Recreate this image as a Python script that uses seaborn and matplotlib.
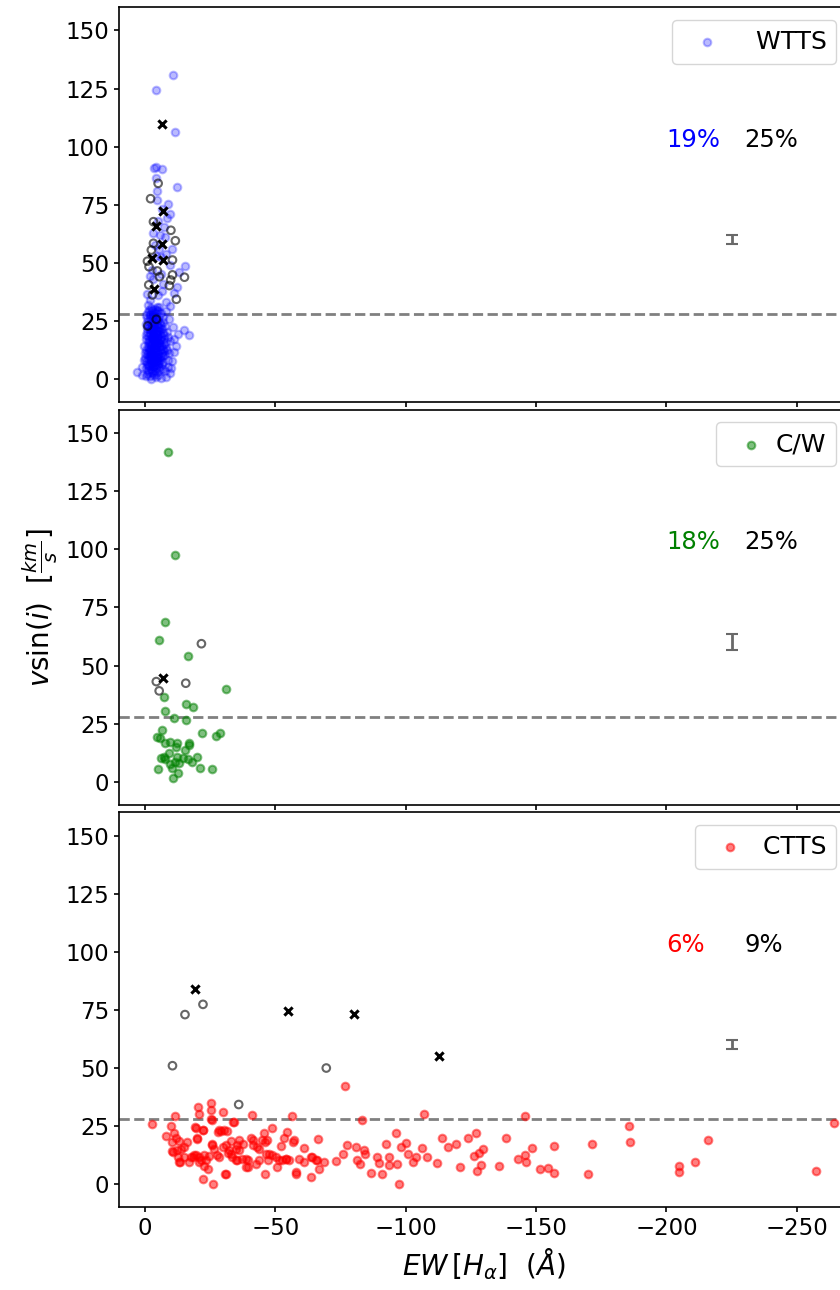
import numpy as np
import pandas as pd
import seaborn as sns
import matplotlib.pyplot as plt

# EW[Halpha] (x) vs vsin(i) (y)
wtts_pts = [
    (-1.5, 29.5), (-3.0, 28.8), (-4.6, 29.9), (-6.0, 28.4), (-8.2, 29.2), (-2.2, 30.6), (-5.3, 31.0),
    (-0.8, 26.2), (-2.5, 25.7), (-3.9, 26.8), (-5.1, 25.3), (-6.7, 26.5), (-9.1, 25.9), (-1.9, 27.4), (-4.4, 24.8),
    (-1.2, 23.1), (-2.8, 22.6), (-3.5, 23.8), (-4.9, 22.2), (-6.2, 23.4), (-7.6, 22.9), (-10.8, 22.5), (-0.3, 23.6), (-5.7, 21.9),
    (-0.6, 20.3), (-1.8, 19.6), (-3.1, 20.8), (-4.2, 19.2), (-5.5, 20.5), (-6.9, 19.8), (-8.3, 20.1), (-12.5, 19.4),
    (-14.9, 21.0), (-16.8, 19.1), (-2.4, 21.4), (-7.4, 18.9),
    (-0.2, 17.2), (-1.4, 16.6), (-2.7, 17.5), (-3.8, 16.1), (-4.7, 17.8), (-6.0, 16.9), (-7.3, 17.3), (-9.6, 16.4),
    (-11.2, 17.0), (-1.0, 15.9), (-5.2, 15.6), (-8.8, 18.2),
    (0.4, 14.1), (-1.1, 13.6), (-2.2, 14.5), (-3.3, 13.2), (-4.5, 14.8), (-5.7, 13.9), (-6.6, 14.3), (-8.0, 13.5),
    (-11.8, 14.0), (-1.6, 12.9), (-3.9, 12.6), (-7.1, 15.2),
    (0.2, 11.0), (-0.9, 10.6), (-2.0, 11.4), (-3.0, 10.2), (-4.1, 11.7), (-5.0, 10.8), (-6.3, 11.2), (-7.7, 10.4),
    (-9.2, 11.1), (-11.0, 11.8), (-1.5, 9.9), (-4.6, 9.6), (-8.5, 12.3),
    (0.6, 8.1), (-0.5, 7.6), (-1.7, 8.5), (-2.6, 7.2), (-3.6, 8.8), (-4.8, 7.9), (-5.9, 8.3), (-7.0, 7.5),
    (-8.9, 8.0), (-10.3, 7.7), (-2.1, 6.8), (-6.4, 6.5),
    (1.2, 5.0), (-0.2, 4.6), (-1.3, 5.4), (-2.4, 4.2), (-3.4, 5.7), (-4.3, 4.8), (-5.4, 5.2), (-6.8, 4.4),
    (-8.6, 5.3), (-9.9, 4.9), (-3.9, 3.6), (-7.5, 3.3),
    (3.0, 3.1), (1.1, 1.7), (-0.7, 2.2), (-1.9, 1.2), (-2.9, 2.5), (-4.0, 0.8), (-5.1, 1.9), (-6.2, 0.4),
    (-8.0, 1.0), (-9.5, 2.6), (-2.3, 0.2),
    (-1.8, 27.8), (-2.9, 28.1), (-3.6, 24.5), (-4.4, 25.8), (-5.2, 27.1), (-2.5, 21.8), (-3.3, 22.1), (-4.1, 21.0),
    (-1.2, 18.4), (-2.0, 18.9), (-3.0, 18.1), (-3.8, 17.6), (-4.8, 18.6), (-5.6, 19.3), (-2.7, 15.2), (-3.5, 15.8),
    (-4.3, 16.3), (-1.7, 12.2), (-2.4, 12.8), (-3.2, 12.5), (-4.0, 13.4), (-5.0, 12.0), (-6.1, 12.7), (-2.1, 9.3),
    (-3.1, 9.8), (-4.2, 9.1), (-1.4, 6.2), (-2.6, 6.6), (-3.7, 6.1), (-4.6, 7.0),
    (-2.2, 24.0), (-3.4, 24.8), (-4.5, 23.2), (-1.9, 20.9), (-3.0, 21.6), (-4.0, 20.0), (-5.1, 21.2), (-2.6, 17.9),
    (-3.6, 18.7), (-4.7, 16.8), (-6.0, 18.0), (-1.6, 14.9), (-2.8, 15.4), (-3.9, 14.2), (-5.3, 15.9), (-2.3, 10.9),
    (-3.3, 11.6), (-4.4, 10.1), (-5.8, 9.4), (-1.0, 3.8),
    (-0.4, 27.6), (-1.3, 25.0), (-2.0, 26.4), (-3.2, 27.2), (-4.1, 28.3), (-5.6, 24.1), (-6.4, 21.4), (-0.9, 21.9),
    (-1.6, 22.4), (-2.9, 19.9), (-4.5, 20.6), (-5.9, 17.4), (-0.5, 18.8), (-1.9, 16.0), (-3.1, 16.7), (-4.2, 15.0),
    (-5.4, 14.4), (-6.8, 12.9), (-0.3, 12.4), (-1.3, 11.7), (-2.6, 10.5), (-3.6, 10.9), (-4.9, 9.2), (-6.0, 10.0),
    (-0.1, 9.2), (-1.2, 8.8), (-2.3, 8.0), (-3.3, 7.5), (-4.1, 7.7), (-5.3, 6.8), (-0.8, 6.3), (-1.8, 5.6),
    (-2.9, 5.1), (-4.8, 5.9), (-5.9, 3.9), (-0.3, 1.4), (-1.4, 3.2), (-2.7, 3.5), (-3.5, 1.6), (-4.6, 2.9),
    (-1.1, 28.9), (-2.6, 29.6), (-3.7, 30.3), (-5.0, 29.4), (-6.9, 24.4), (-7.9, 16.1), (-7.3, 12.1), (-6.9, 9.7),
    (-3.5, 90.7), (-4.1, 91.1), (-6.4, 90.3), (-4.1, 86.4), (-12.4, 82.6), (-4.6, 80.9), (-4.7, 77.0), (-8.9, 75.2),
    (-9.5, 71.0), (-8.3, 69.2), (-6.5, 73.0), (-5.0, 68.0), (-3.0, 63.0), (-7.8, 61.0), (-5.5, 56.0), (-8.0, 54.0),
    (-4.0, 53.0), (-9.6, 49.0), (-15.2, 48.8), (-13.0, 46.2), (-6.0, 45.0), (-3.2, 43.0), (-7.0, 41.0), (-12.4, 39.7),
    (-11.0, 37.0), (-5.0, 36.0), (-2.0, 34.0), (-8.0, 33.0), (-9.5, 31.5), (-1.0, 32.0), (-4.5, 31.0), (-6.6, 38.0),
    (-0.6, 36.5), (-10.5, 56.0), (-4.0, 124.5), (-10.6, 131.0), (-11.4, 106.5), (-2.8, 47.0), (-5.8, 62.0),
    (-7.2, 65.5), (-3.8, 57.5), (-6.2, 52.5), (-1.8, 44.5),
]
wtts_open = [
    (-5.0, 84.2), (-2.1, 77.6), (-3.2, 67.7), (-9.9, 64.0), (-11.6, 59.5), (-3.2, 58.4), (-2.4, 55.5),
    (-0.9, 50.7), (-10.5, 51.2), (-1.5, 48.3), (-4.7, 46.5), (-10.5, 44.8), (-9.8, 42.6), (-9.3, 40.2),
    (-15.1, 43.8), (-1.4, 40.5), (-2.8, 36.2), (-12.0, 34.3), (-4.3, 25.7), (-1.0, 22.8), (-5.5, 44.0),
]
wtts_cross = [(-6.3, 109.6), (-7.0, 72.2), (-4.2, 65.8), (-6.3, 58.0), (-2.8, 52.1), (-6.9, 51.0), (-3.5, 38.8)]

cw_pts = [
    (-8.9, 142.1), (-11.5, 97.4), (-7.5, 68.7), (-5.2, 61.2), (-16.6, 54.2), (-31.2, 40.1), (-7.3, 36.4),
    (-15.6, 33.5), (-18.5, 32.0), (-7.5, 30.5), (-11.1, 27.5), (-15.6, 26.6), (-6.6, 22.3), (-22.0, 21.1),
    (-4.7, 19.4), (-5.6, 18.7), (-27.1, 19.7), (-28.6, 20.8), (-7.7, 16.5), (-9.5, 17.2), (-12.4, 16.8),
    (-16.9, 16.5), (-17.0, 16.0), (-11.8, 15.1), (-15.3, 13.7), (-6.0, 10.1), (-7.3, 10.8), (-9.2, 12.2),
    (-12.4, 10.5), (-14.6, 10.1), (-16.6, 9.6), (-18.1, 8.6), (-20.0, 10.5), (-11.3, 8.6), (-13.0, 7.9),
    (-5.0, 5.5), (-10.5, 5.8), (-21.1, 5.8), (-25.6, 5.6), (-12.7, 3.9), (-10.7, 1.7), (-7.7, 9.6), (-9.6, 7.5),
]
cw_open = [(-4.3, 43.1), (-15.6, 42.4), (-5.4, 39.1), (-21.6, 59.4)]
cw_cross = [(-7.0, 44.6)]

ctts_pts = [
    (-2.6, 25.8), (-7.9, 20.7), (-10.1, 24.9), (-11.5, 29.3), (-10.5, 14.3), (-12.8, 11.8), (-13.4, 9.6),
    (-14.9, 16.1), (-16.2, 18.2), (-17.5, 11.8), (-18.8, 12.5), (-19.2, 24.7), (-19.8, 19.6), (-20.7, 11.8),
    (-20.3, 33.3), (-20.7, 30.0), (-21.3, 10.3), (-22.4, 23.5), (-23.5, 10.6), (-24.3, 6.7), (-25.2, 35.0),
    (-25.2, 31.9), (-25.2, 27.9), (-25.8, 16.8), (-26.5, 15.3), (-27.8, 22.5), (-28.4, 11.8), (-29.0, 22.8),
    (-29.7, 31.1), (-29.9, 16.1), (-30.9, 4.6), (-31.6, 22.8), (-31.9, 13.6), (-32.8, 18.5), (-33.5, 11.8),
    (-34.1, 26.9), (-34.8, 10.3), (-35.4, 16.8), (-36.1, 14.6), (-37.4, 17.5), (-38.6, 11.0), (-39.3, 7.4),
    (-40.9, 29.7), (-41.2, 18.9), (-43.1, 16.1), (-43.7, 10.3), (-45.0, 19.2), (-45.9, 18.2), (-46.3, 13.2),
    (-47.0, 10.3), (-48.6, 24.2), (-50.1, 11.8), (-51.4, 10.3), (-52.7, 10.6), (-54.0, 11.0), (-54.6, 22.5),
    (-56.5, 29.3), (-57.1, 19.1), (-57.8, 4.6),
    (-11.1, 22.1), (-10.2, 18.2), (-11.8, 19.9), (-13.1, 18.6), (-10.7, 13.9), (-12.4, 14.6), (-13.7, 15.3),
    (-13.1, 9.6), (-14.9, 11.7), (-16.9, 9.6), (-18.2, 11.7), (-19.4, 24.3), (-20.1, 20.1), (-19.4, 12.5),
    (-20.7, 9.6), (-22.3, 23.3), (-22.6, 12.5), (-22.6, 7.9), (-24.5, 12.0), (-22.3, 2.3), (-25.6, 27.5),
    (-25.9, 0.0), (-25.8, 17.4), (-27.7, 12.5), (-28.4, 23.3), (-30.3, 23.3), (-31.0, 16.8), (-30.7, 4.6),
    (-32.2, 14.9), (-32.9, 13.2), (-33.7, 26.8), (-34.8, 15.3), (-35.4, 10.3), (-36.1, 18.9), (-37.3, 11.0),
    (-38.6, 7.5), (-39.3, 10.3), (-40.8, 19.7), (-41.2, 16.8), (-42.4, 8.9), (-43.7, 15.3), (-45.6, 22.1),
    (-45.9, 4.3), (-46.9, 18.9), (-47.5, 13.2), (-48.8, 12.5), (-50.7, 7.5), (-52.0, 16.3), (-53.2, 20.0),
    (-53.9, 11.0), (-55.2, 10.6), (-56.9, 18.2), (-59.1, 11.0),
    (-61.0, 15.4), (-61.0, 9.6), (-63.5, 11.5), (-66.1, 10.3), (-66.7, 6.7), (-66.5, 19.4), (-63.5, 3.0),
    (-68.6, 9.6), (-73.1, 10.0), (-76.1, 13.2), (-76.6, 42.2), (-77.6, 17.0), (-80.8, 15.8), (-81.4, 10.3),
    (-83.3, 27.6), (-84.0, 14.6), (-86.5, 4.9), (-89.1, 11.8), (-89.7, 9.2), (-91.0, 4.6), (-92.5, 17.2),
    (-93.6, 11.8), (-93.6, 8.2), (-96.3, 22.0), (-96.7, 8.9), (-97.4, 0.0), (-98.0, 15.9), (-99.9, 17.8),
    (-100.9, 12.8), (-102.8, 9.6), (-103.8, 11.8), (-106.1, 15.4), (-107.0, 30.0), (-108.3, 11.8),
    (-112.1, 9.2), (-114.0, 19.7), (-116.0, 16.0), (-119.1, 17.4), (-120.8, 7.4), (-124.0, 20.0),
    (-82.3, 8.7), (-84.2, 13.2), (-65.5, 10.3), (-64.2, 11.7), (-57.8, 5.3), (-126.0, 12.0), (-127.0, 22.1),
    (-128.1, 13.5), (-127.5, 5.6), (-128.7, 8.3), (-129.8, 15.3),
    (-135.7, 7.7), (-138.6, 20.0), (-143.2, 10.8), (-145.7, 29.4), (-145.7, 12.6), (-146.2, 9.7),
    (-148.5, 15.5), (-151.5, 6.7), (-154.6, 7.0), (-156.8, 16.5), (-156.9, 4.7), (-169.9, 4.3),
    (-171.5, 17.4), (-185.6, 25.1), (-186.0, 18.2), (-204.8, 7.9), (-204.8, 5.3), (-211.0, 9.7),
    (-216.1, 19.0), (-257.4, 5.6), (-264.2, 26.4),
]
ctts_open = [(-15.3, 73.0), (-22.2, 77.4), (-10.5, 51.0), (-69.5, 50.0), (-35.9, 34.3)]
ctts_cross = [(-19.2, 83.8), (-54.7, 74.6), (-80.3, 73.2), (-112.8, 55.3)]

groups = ['WTTS', 'C/W', 'CTTS']
labels = ['   WTTS', 'C/W', ' CTTS']
colors = ['blue', 'green', 'red']
alphas = [0.27, 0.5, 0.5]
frac_colored = ['19%', '18%', '6%']
frac_black = ['25%', '25%', '9%']
threshold = 28
err_x, err_y = -225, 60
err_size = [2, 3.5, 2]

main_pts = [wtts_pts, cw_pts, ctts_pts]
open_pts = [wtts_open, cw_open, ctts_open]
cross_pts = [wtts_cross, cw_cross, ctts_cross]

fig = plt.figure(figsize=(8.4, 12.9), dpi=100)
plt.rcParams['font.family'] = ['DejaVu Sans']

bottoms = [0.6882, 0.376, 0.064]
axes = []
for i, g in enumerate(groups):
    ax = fig.add_axes([0.1417, bottoms[i], 0.869, 0.3062])
    axes.append(ax)
    df = pd.DataFrame(main_pts[i], columns=['ew', 'vsini'])
    dfo = pd.DataFrame(open_pts[i], columns=['ew', 'vsini'])
    dfx = pd.DataFrame(cross_pts[i], columns=['ew', 'vsini'])

    sns.scatterplot(data=df, x='ew', y='vsini', ax=ax, color=colors[i], edgecolor=colors[i],
                    alpha=alphas[i], s=30, linewidth=1.5, label=labels[i], zorder=2)
    sns.scatterplot(data=dfo, x='ew', y='vsini', ax=ax, facecolors='none', edgecolor='black',
                    alpha=0.6, s=30, linewidth=1.5, zorder=3)
    sns.scatterplot(data=dfx, x='ew', y='vsini', ax=ax, marker='x', color='black',
                    s=35, linewidth=2.2, zorder=4)

    ax.axhline(threshold, color='grey', ls='--', lw=2, zorder=1)
    ax.errorbar(err_x, err_y, yerr=err_size[i], color='dimgrey', capsize=4, lw=2, capthick=1.5)
    ax.text(-200, 100, frac_colored[i], color=colors[i], fontsize=17.5)
    ax.text(-230, 100, frac_black[i], color='black', fontsize=17.5)

    ax.set_xlim(10, -270)
    ax.set_ylim(-10, 160)
    ax.set_yticks([0, 25, 50, 75, 100, 125, 150])
    ax.set_xticks([0, -50, -100, -150, -200, -250])
    ax.tick_params(labelsize=16.5, width=1.2)
    for sp in ax.spines.values():
        sp.set_linewidth(1.2)
    ax.set_xlabel('')
    ax.set_ylabel('')
    if i < 2:
        ax.set_xticklabels([])
    ax.legend(loc='upper right', fontsize=18, handletextpad=0.0)

axes[1].set_ylabel(r'$v\sin(i)\ \ [\frac{km}{s}]$', fontsize=20)
axes[2].set_xlabel(r'$EW\,[H_\alpha]\ \ (Å)$', fontsize=20)

fig.savefig('out.png', dpi=100)
